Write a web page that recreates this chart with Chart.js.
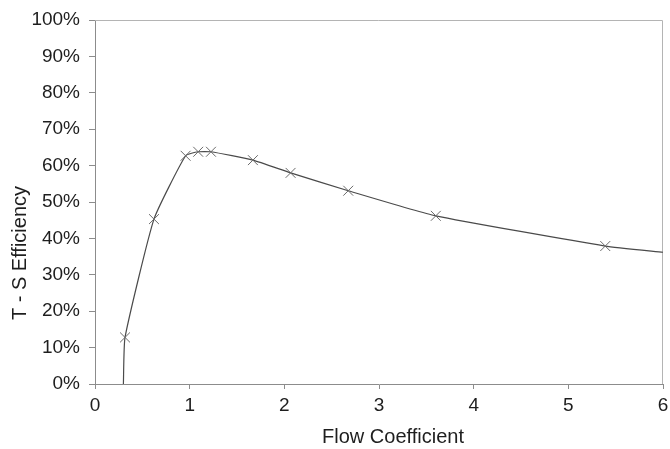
<!DOCTYPE html>
<html>
<head>
<meta charset="utf-8">
<script src="https://cdn.jsdelivr.net/npm/chart.js@4"></script>
<style>
  html, body { margin: 0; padding: 0; background: #fff; }
  #wrap { width: 670px; height: 449px; }
</style>
</head>
<body>
<div id="wrap"><canvas id="effChart" width="670" height="449"></canvas></div>
<script>
const flowCoeff  = [0.30, 0.317, 0.623, 0.957, 1.09, 1.225, 1.668, 2.066, 2.675, 3.60, 5.39, 6.0];
const efficiency = [0.0, 0.128, 0.453, 0.627, 0.638, 0.638, 0.615, 0.580, 0.531, 0.462, 0.379, 0.362];
const hasMarker  = [false, true, true, true, true, true, true, true, true, true, true, false];
const xTicks = [0, 1, 2, 3, 4, 5, 6];
const yTicks = [0, 0.1, 0.2, 0.3, 0.4, 0.5, 0.6, 0.7, 0.8, 0.9, 1.0];
const xTitle = 'Flow Coefficient';
const yTitle = 'T - S Efficiency';

const points = flowCoeff.map((x, i) => ({ x: x, y: efficiency[i] }));
const FONT = 'Liberation Sans, Arial, sans-serif';

// light box round the plot area (top + right edges) and the axis titles,
// which sit a little off centre in the original
const extras = {
  id: 'extras',
  beforeDatasetsDraw(chart) {
    const a = chart.chartArea, c = chart.ctx;
    c.save();
    c.strokeStyle = '#b4b4b4';
    c.lineWidth = 1;
    c.beginPath();
    c.moveTo(a.left, a.top + 0.5);
    c.lineTo(a.right - 0.5, a.top + 0.5);
    c.lineTo(a.right - 0.5, a.bottom);
    c.stroke();
    c.restore();
  },
  afterDraw(chart) {
    const c = chart.ctx;
    c.save();
    c.fillStyle = '#1e1e1e';
    c.font = '20px ' + FONT;
    c.textAlign = 'center';
    c.textBaseline = 'middle';
    c.fillText(xTitle, 393, 437);
    c.translate(20, 253);
    c.rotate(-Math.PI / 2);
    c.fillText(yTitle, 0, 0);
    c.restore();
  }
};

const ctx = document.getElementById('effChart').getContext('2d');
const effChart = new Chart(ctx, {
    type: 'scatter',
    data: {
        datasets: [{
            label: yTitle,
            data: points,
            showLine: true,
            borderColor: '#4a4a4a',
            borderWidth: 1.2,
            tension: 0.15,
            pointStyle: 'crossRot',
            pointRadius: c => hasMarker[c.dataIndex] ? 7 : 0,
            pointBorderColor: '#6a6a6a',
            pointBorderWidth: 1,
            pointBackgroundColor: 'transparent'
        }]
    },
    options: {
        responsive: false,
        animation: false,
        events: [],
        layout: { padding: { left: 0, right: 7, top: 20, bottom: 0 } },
        plugins: {
            legend: { display: false },
            tooltip: { enabled: false }
        },
        scales: {
            x: {
                type: 'linear',
                min: 0,
                max: 6,
                afterBuildTicks: s => { s.ticks = xTicks.map(v => ({ value: v })); },
                afterFit: s => { s.height = 65; s.paddingRight = 0; s.paddingLeft = 0; },
                grid: { drawOnChartArea: false, drawTicks: true, tickLength: 5, color: '#8c8c8c' },
                border: { color: '#8c8c8c', width: 1 },
                ticks: {
                    color: '#1e1e1e',
                    padding: 5,
                    maxRotation: 0,
                    font: { family: FONT, size: 19 }
                }
            },
            y: {
                min: 0,
                max: 1,
                afterBuildTicks: s => { s.ticks = yTicks.map(v => ({ value: v })); },
                afterFit: s => { s.width = 95; s.paddingTop = 0; s.paddingBottom = 0; },
                grid: { drawOnChartArea: false, drawTicks: true, tickLength: 6, color: '#8c8c8c' },
                border: { color: '#8c8c8c', width: 1 },
                ticks: {
                    color: '#1e1e1e',
                    padding: 9,
                    callback: v => Math.round(v * 100) + '%',
                    font: { family: FONT, size: 19 }
                }
            }
        }
    },
    plugins: [extras]
});
</script>
</body>
</html>
